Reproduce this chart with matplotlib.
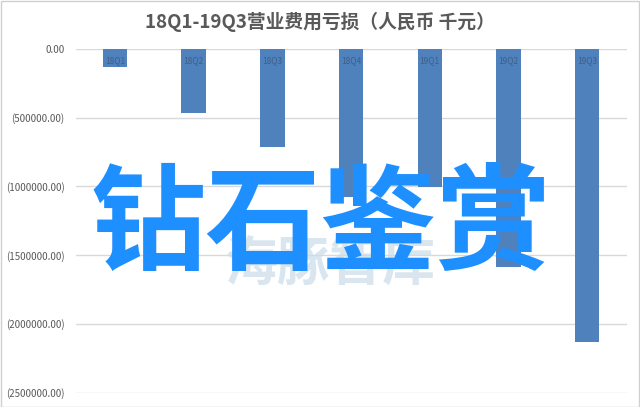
import matplotlib
matplotlib.use('Agg')
import matplotlib.pyplot as plt
from matplotlib.patches import Rectangle
from matplotlib.ticker import FuncFormatter

plt.rcParams['font.family'] = ['Noto Sans CJK SC', 'DejaVu Sans']

# data (thousand RMB)
quarters = ['18Q1', '18Q2', '18Q3', '18Q4', '19Q1', '19Q2', '19Q3']
losses = [-135000, -465000, -717000, -1080000, -1003000, -1584000, -2129000]
y_ticks = [0, -500000, -1000000, -1500000, -2000000, -2500000]

title = '18Q1-19Q3营业费用亏损（人民币 千元）'
overlay_text = '钻石鉴赏'
faint_text = '海豚智库'

bar_color = '#4F81BD'
grid_color = '#D9D9D9'
text_color = '#595959'


def money_fmt(v, pos):
    if v < 0:
        return '(%.2f)' % abs(v)
    return '%.2f' % v


fig = plt.figure(figsize=(6.4, 4.07), dpi=100)
ax = fig.add_axes([0.118, 0.035, 0.861, 0.845])

x = list(range(len(quarters)))
ax.bar(x, losses, width=0.31, color=bar_color, zorder=2)

ax.set_xlim(-0.5, len(quarters) - 0.5)
ax.set_ylim(-2500000, 0)
ax.set_yticks(y_ticks)
ax.yaxis.set_major_formatter(FuncFormatter(money_fmt))
ax.grid(axis='y', color=grid_color, linewidth=1, zorder=0)
for s in ax.spines.values():
    s.set_visible(False)
ax.tick_params(axis='y', length=0, pad=8, labelsize=7, labelcolor=text_color)

# category labels sit just under the 0 axis, over the bars
ax.set_xticks(x)
ax.set_xticklabels(quarters)
ax.xaxis.tick_top()
ax.xaxis.set_zorder(3)
ax.tick_params(axis='x', length=0, pad=-12, labelsize=6, labelcolor='#3F5F86')

fig.text(0.5, 0.947, title, ha='center', va='center', fontsize=13.5,
         fontweight='bold', color=text_color)

# watermarks
fig.text(0.515, 0.35, faint_text, ha='center', va='center', fontsize=38,
         fontweight='bold', color='#C9DCEA', alpha=0.7, zorder=5)
fig.text(0.502, 0.44, overlay_text, ha='center', va='center', fontsize=83,
         fontweight='bold', color='#1E8FFF', zorder=6)

fig.patches.append(Rectangle((0.001, 0.001), 0.997, 0.997, transform=fig.transFigure,
                             fill=False, edgecolor='#D0D0D0', linewidth=1))

fig.savefig('out.png', dpi=100)
